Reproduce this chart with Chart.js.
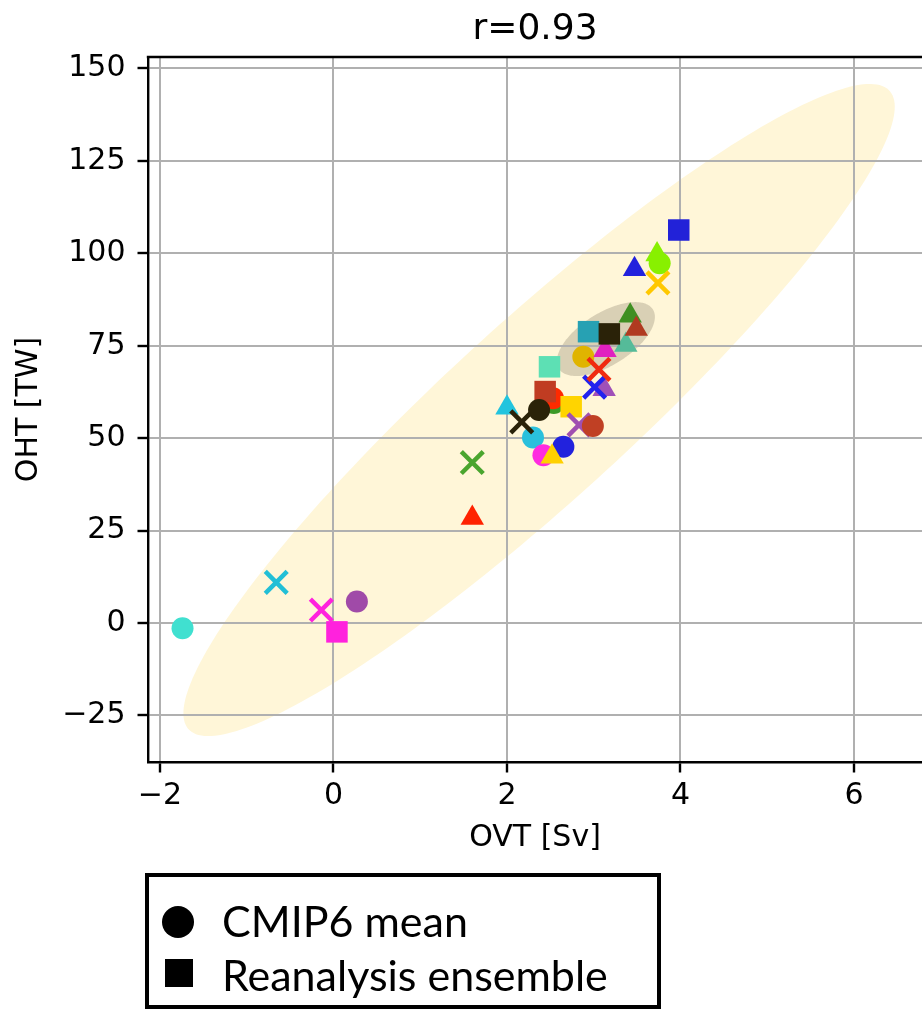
<!DOCTYPE html>
<html>
<head>
<meta charset="utf-8">
<script src="https://cdn.jsdelivr.net/npm/chart.js@4.4.1/dist/chart.umd.min.js"></script>
<style>
  body { margin: 0; background: #fff; overflow: hidden; }
</style>
</head>
<body>
<canvas id="scatter" width="922" height="1010"></canvas>
<script>
// OVT [Sv] / OHT [TW] per model or product, in plotting order
const ovt = [-1.74, -0.66, -0.14, 0.27, 0.04, 1.60, 1.60, 2.00, 2.30, 2.17,
  2.42, 2.65, 2.52, 2.54, 2.53, 2.44, 2.37, 2.74, 2.83, 2.99,
  2.49, 2.88, 3.12, 3.01, 3.06, 3.13, 3.37, 2.94, 3.18, 3.42,
  3.49, 3.47, 3.73, 3.76, 3.74, 3.98];
const oht = [-1.4, 11.0, 3.5, 5.8, -2.4, 43.4, 28.4, 58.2, 50.2, 54.4,
  45.4, 47.7, 45.0, 59.5, 60.8, 62.6, 57.6, 58.5, 53.6, 53.3,
  69.3, 72.0, 63.2, 63.8, 68.6, 73.8, 75.2, 78.8, 78.2, 83.1,
  79.5, 95.7, 99.7, 97.3, 92.0, 106.3];
const shapes = ['circle', 'crossRot', 'crossRot', 'circle', 'rect', 'crossRot', 'triangle', 'triangle', 'circle', 'crossRot',
  'circle', 'circle', 'triangle', 'circle', 'circle', 'rect', 'circle', 'rect', 'crossRot', 'circle',
  'rect', 'circle', 'triangle', 'crossRot', 'crossRot', 'triangle', 'triangle', 'rect', 'rect', 'triangle',
  'triangle', 'triangle', 'triangle', 'circle', 'crossRot', 'rect'];
const colours = ['#40e0d0', '#22bfd6', '#ff22dd', '#a04aa8', '#ff22dd', '#4aa52e', '#ff2200', '#22c4de', '#2ac0dc', '#2a2208',
  '#ff2ae0', '#2222dd', '#ffd000', '#3c9a28', '#ff2a00', '#c03c22', '#2a2208', '#ffd400', '#a050b0', '#c04024',
  '#5de0b4', '#e0b400', '#a050b8', '#2222ee', '#f02a10', '#e020c0', '#55bb99', '#27a1b3', '#2a2208', '#3f8f22',
  '#b03a20', '#2222dd', '#88f000', '#88f000', '#ffc800', '#2222d8'];

// spread ellipses: centre, n-std extent on each axis, correlation
const cmipSpread = { ovt: 2.37, oht: 57.6, ovtExt: 4.10, ohtExt: 88.2, r: 0.93 };
const reanaSpread = { ovt: 3.14, oht: 76.8, ovtExt: 0.565, ohtExt: 10.0, r: 0.6 };

const xTicks = [-2, 0, 2, 4, 6];
const yTicks = [-25, 0, 25, 50, 75, 100, 125, 150];
const title = 'r=0.93';
const legendItems = ['CMIP6 mean', 'Reanalysis ensemble'];

const radiusFor = { circle: 11, rect: 15.2, triangle: 13.5, crossRot: 15.5 };

Chart.defaults.font.family = "'DejaVu Sans'";
Chart.defaults.color = '#000';

const minus = (v) => String(v).replace('-', '\u2212');

function drawSpread(chart, e, fill) {
  const { ctx, chartArea, scales: { x, y } } = chart;
  const a = Math.sqrt(1 + e.r), b = Math.sqrt(1 - e.r);
  ctx.save();
  ctx.beginPath();
  ctx.rect(chartArea.left, chartArea.top, chartArea.width, chartArea.height);
  ctx.clip();
  ctx.beginPath();
  for (let k = 0; k <= 240; k++) {
    const t = (k / 240) * 2 * Math.PI;
    const u = a * Math.cos(t), v = b * Math.sin(t);
    const px = x.getPixelForValue(e.ovt + ((u - v) / Math.SQRT2) * e.ovtExt);
    const py = y.getPixelForValue(e.oht + ((u + v) / Math.SQRT2) * e.ohtExt);
    if (k === 0) ctx.moveTo(px, py); else ctx.lineTo(px, py);
  }
  ctx.closePath();
  ctx.fillStyle = fill;
  ctx.fill();
  ctx.restore();
}

const spreadPlugin = {
  id: 'spread',
  beforeDraw(chart) {
    drawSpread(chart, cmipSpread, '#fff6d8');
    drawSpread(chart, reanaSpread, 'rgba(128,120,100,0.3)');
  }
};

const framePlugin = {
  id: 'frame',
  afterDraw(chart) {
    const { ctx, chartArea } = chart;
    ctx.save();
    // top spine
    ctx.strokeStyle = '#000';
    ctx.lineWidth = 2.4;
    ctx.beginPath();
    ctx.moveTo(chartArea.left - 1.2, chartArea.top);
    ctx.lineTo(chartArea.right, chartArea.top);
    ctx.stroke();

    // title over the axes
    ctx.fillStyle = '#000';
    ctx.font = "36px 'DejaVu Sans'";
    ctx.textAlign = 'center';
    ctx.textBaseline = 'alphabetic';
    ctx.fillText(title, (chartArea.left + chartArea.right) / 2, 39);

    // legend box
    ctx.lineWidth = 4;
    ctx.strokeRect(147, 875, 512, 132);
    ctx.beginPath();
    ctx.arc(178, 922, 16, 0, 2 * Math.PI);
    ctx.fill();
    ctx.fillRect(165, 959, 28, 28);
    ctx.font = "43px Lato";
    ctx.textAlign = 'left';
    ctx.fillText(legendItems[0], 222, 937);
    ctx.fillText(legendItems[1], 222, 991);
    ctx.restore();
  }
};

new Chart(document.getElementById('scatter'), {
  type: 'scatter',
  data: {
    datasets: [{
      data: ovt.map((v, i) => ({ x: v, y: oht[i] })),
      pointStyle: shapes,
      pointRadius: shapes.map((s) => radiusFor[s]),
      pointBackgroundColor: colours,
      pointBorderColor: colours,
      pointBorderWidth: shapes.map((s) => (s === 'crossRot' ? 4.5 : 0)),
    }]
  },
  options: {
    responsive: false,
    animation: false,
    events: [],
    layout: { autoPadding: false, padding: { top: 57, left: 0, right: 0, bottom: 140 } },
    plugins: { legend: { display: false }, tooltip: { enabled: false } },
    scales: {
      x: {
        type: 'linear',
        min: -2.138,
        max: 6.784,
        afterFit: (s) => { s.height = 108; s.paddingLeft = 0; s.paddingRight = 0; },
        afterBuildTicks: (s) => { s.ticks = xTicks.map((v) => ({ value: v })); },
        ticks: { font: { size: 30 }, padding: 6, callback: minus },
        grid: { color: '#b0b0b0', lineWidth: 2, tickColor: '#000', tickWidth: 2.4, tickLength: 10.5 },
        border: { color: '#000', width: 2.4 },
        title: { display: true, text: 'OVT [Sv]', font: { size: 30 }, padding: { top: 0, bottom: 14 } }
      },
      y: {
        type: 'linear',
        min: -37.6,
        max: 153.1,
        afterFit: (s) => { s.width = 148; s.paddingTop = 0; s.paddingBottom = 0; },
        afterBuildTicks: (s) => { s.ticks = yTicks.map((v) => ({ value: v })); },
        ticks: { font: { size: 30 }, padding: 12, callback: minus },
        grid: { color: '#b0b0b0', lineWidth: 2, tickColor: '#000', tickWidth: 2.4, tickLength: 10.5 },
        border: { color: '#000', width: 2.4 },
        title: { display: true, text: 'OHT [TW]', font: { size: 30 }, padding: { top: 11, bottom: 0 } }
      }
    }
  },
  plugins: [spreadPlugin, framePlugin]
});
</script>
</body>
</html>
